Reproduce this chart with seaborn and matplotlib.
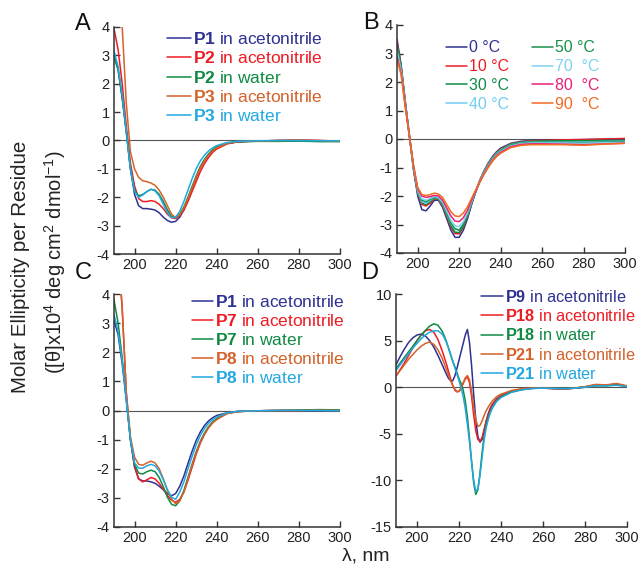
import numpy as np
import pandas as pd
import matplotlib
matplotlib.use("Agg")
import matplotlib.pyplot as plt
from matplotlib.lines import Line2D
import seaborn as sns

# ---------------- data ----------------
wl_abc = list(range(190, 241, 2)) + [245, 250, 255, 260, 270, 280, 290, 300]
wl_d = list(range(190, 213, 2)) + list(range(213, 237)) + [238, 240, 245, 250, 255, 260, 265, 270, 275, 280, 285, 290, 295, 300]

# Panel A
a_p1_acn = [3.0, 2.5, 1.5, 0.3, -1.0, -1.9, -2.3, -2.4, -2.4, -2.42, -2.45, -2.55, -2.7, -2.82, -2.88, -2.85, -2.7, -2.45, -2.1, -1.7, -1.3, -0.95, -0.7, -0.5, -0.35, -0.25,
            -0.1, -0.05, -0.03, -0.02, 0.0, 0.0, -0.02, -0.02]
a_p2_acn = [3.95, 3.2, 2.0, 0.5, -0.8, -1.6, -2.05, -2.15, -2.15, -2.12, -2.15, -2.25, -2.4, -2.6, -2.72, -2.75, -2.65, -2.45, -2.15, -1.8, -1.45, -1.1, -0.82, -0.6, -0.42, -0.3,
            -0.12, -0.05, -0.03, -0.02, 0.0, 0.02, 0.0, -0.02]
a_p2_wat = [2.95, 2.5, 1.5, 0.3, -1.0, -1.75, -1.95, -1.9, -1.8, -1.72, -1.75, -1.9, -2.15, -2.45, -2.68, -2.72, -2.6, -2.35, -2.0, -1.62, -1.25, -0.92, -0.67, -0.48, -0.33, -0.23,
            -0.1, -0.05, -0.04, -0.03, -0.03, -0.02, -0.04, -0.04]
a_p3_acn = [6.5, 5.2, 4.0, 1.3, -0.4, -1.0, -1.3, -1.42, -1.45, -1.5, -1.58, -1.75, -2.0, -2.3, -2.6, -2.72, -2.62, -2.38, -2.05, -1.68, -1.3, -0.97, -0.72, -0.52, -0.37, -0.26,
            -0.1, -0.04, -0.02, -0.02, 0.0, 0.02, 0.0, -0.02]
a_p3_wat = [3.15, 2.6, 1.6, 0.3, -1.0, -1.8, -2.0, -1.92, -1.8, -1.72, -1.78, -1.95, -2.25, -2.55, -2.72, -2.7, -2.5, -2.15, -1.75, -1.35, -1.0, -0.72, -0.52, -0.37, -0.26, -0.18,
            -0.07, -0.03, -0.02, -0.01, 0.0, 0.0, -0.01, -0.01]

# Panel B
b_0 = [3.5, 2.6, 1.3, 0.1, -1.1, -2.0, -2.48, -2.52, -2.35, -2.15, -2.15, -2.4, -2.8, -3.2, -3.45, -3.45, -3.2, -2.8, -2.3, -1.85, -1.45, -1.12, -0.85, -0.62, -0.45, -0.32,
       -0.15, -0.08, -0.05, -0.04, -0.03, -0.02, -0.01, 0.0]
b_10 = [3.4, 2.55, 1.3, 0.1, -1.05, -1.9, -2.3, -2.35, -2.25, -2.1, -2.12, -2.35, -2.72, -3.1, -3.32, -3.33, -3.1, -2.72, -2.25, -1.82, -1.44, -1.12, -0.86, -0.64, -0.47, -0.35,
        -0.17, -0.1, -0.06, -0.05, -0.03, -0.02, 0.0, 0.02]
b_30 = [3.3, 2.5, 1.25, 0.1, -1.05, -1.88, -2.25, -2.3, -2.2, -2.08, -2.1, -2.32, -2.68, -3.05, -3.27, -3.28, -3.06, -2.7, -2.25, -1.83, -1.46, -1.14, -0.88, -0.66, -0.49, -0.37,
        -0.18, -0.11, -0.08, -0.07, -0.06, -0.06, -0.05, -0.05]
b_40 = [3.2, 2.45, 1.25, 0.1, -1.0, -1.85, -2.2, -2.25, -2.15, -2.05, -2.08, -2.28, -2.62, -2.97, -3.17, -3.18, -2.98, -2.65, -2.22, -1.82, -1.46, -1.15, -0.9, -0.68, -0.51, -0.39,
        -0.2, -0.13, -0.1, -0.1, -0.1, -0.1, -0.09, -0.08]
b_50 = [3.3, 2.5, 1.25, 0.1, -1.0, -1.83, -2.15, -2.2, -2.12, -2.05, -2.07, -2.27, -2.6, -2.95, -3.15, -3.2, -3.0, -2.67, -2.25, -1.85, -1.5, -1.18, -0.92, -0.7, -0.53, -0.41,
        -0.21, -0.14, -0.11, -0.11, -0.11, -0.12, -0.11, -0.1]
b_70 = [3.1, 2.4, 1.2, 0.1, -1.0, -1.8, -2.1, -2.15, -2.08, -2.02, -2.05, -2.22, -2.52, -2.85, -3.05, -3.07, -2.9, -2.6, -2.2, -1.83, -1.5, -1.2, -0.95, -0.73, -0.56, -0.44,
        -0.24, -0.16, -0.14, -0.14, -0.14, -0.15, -0.13, -0.12]
b_80 = [2.9, 2.3, 1.15, 0.1, -0.95, -1.75, -2.0, -2.05, -2.02, -1.98, -2.0, -2.15, -2.42, -2.7, -2.88, -2.9, -2.76, -2.5, -2.15, -1.82, -1.5, -1.22, -0.98, -0.76, -0.59, -0.47,
        -0.27, -0.19, -0.17, -0.17, -0.18, -0.2, -0.17, -0.15]
b_90 = [2.8, 2.25, 1.1, 0.1, -0.95, -1.7, -1.95, -1.98, -1.95, -1.9, -1.93, -2.05, -2.3, -2.55, -2.7, -2.72, -2.6, -2.38, -2.08, -1.78, -1.5, -1.24, -1.0, -0.79, -0.62, -0.5,
        -0.3, -0.22, -0.2, -0.2, -0.2, -0.22, -0.18, -0.15]

# Panel C
c_p1_acn = [3.1, 2.6, 1.6, 0.35, -1.0, -1.95, -2.35, -2.42, -2.42, -2.45, -2.5, -2.6, -2.72, -2.85, -2.93, -2.85, -2.6, -2.25, -1.82, -1.4, -1.03, -0.74, -0.52, -0.36, -0.25, -0.17,
            -0.08, -0.03, -0.02, -0.01, 0.0, 0.0, 0.0, -0.01]
c_p7_acn = [7.0, 5.5, 3.5, 0.6, -1.0, -1.9, -2.35, -2.45, -2.38, -2.3, -2.35, -2.5, -2.7, -2.92, -3.08, -3.15, -3.05, -2.8, -2.4, -1.95, -1.5, -1.12, -0.82, -0.58, -0.41, -0.29,
            -0.1, -0.04, -0.02, -0.01, 0.0, 0.0, 0.02, 0.0]
c_p7_wat = [3.8, 3.0, 1.8, 0.4, -1.0, -1.85, -2.15, -2.18, -2.1, -2.05, -2.1, -2.3, -2.62, -2.98, -3.22, -3.27, -3.1, -2.75, -2.3, -1.85, -1.42, -1.06, -0.78, -0.56, -0.4, -0.28,
            -0.1, -0.04, -0.02, -0.01, 0.0, 0.02, 0.03, 0.02]
c_p8_acn = [7.0, 5.5, 3.5, 0.6, -0.9, -1.6, -1.85, -1.88, -1.8, -1.74, -1.8, -2.0, -2.35, -2.75, -3.05, -3.2, -3.1, -2.8, -2.35, -1.88, -1.45, -1.1, -0.82, -0.6, -0.43, -0.31,
            -0.11, -0.04, -0.02, -0.01, 0.0, 0.0, 0.01, 0.0]
c_p8_wat = [3.3, 2.7, 1.7, 0.35, -1.0, -1.8, -1.98, -1.98, -1.9, -1.85, -1.9, -2.08, -2.38, -2.72, -2.98, -3.05, -2.8, -2.45, -2.0, -1.58, -1.18, -0.86, -0.62, -0.44, -0.31, -0.22,
            -0.08, -0.03, -0.02, -0.01, 0.0, 0.0, 0.0, -0.01]

# Panel D
d_p9_acn = [2.4, 3.3, 4.1, 4.8, 5.3, 5.6, 5.7, 5.5, 5.0, 4.3, 3.4, 2.4,
            1.9, 1.4, 0.95, 0.7, 0.7, 1.2, 2.0, 2.9, 3.8, 4.7, 5.6, 6.2, 4.8, 2.3, -0.8, -3.5, -5.3, -5.9, -5.6, -4.6, -3.6, -2.8, -2.2, -1.8,
            -1.25, -0.9, -0.45, -0.2, -0.1, -0.1, -0.15, -0.2, -0.1, 0.0, 0.2, 0.2, 0.35, 0.1]
d_p18_acn = [1.2, 1.9, 2.6, 3.4, 4.2, 5.0, 5.6, 6.05, 6.2, 5.9, 5.1, 3.9,
             3.2, 2.5, 1.7, 0.9, 0.2, -0.3, -0.5, -0.45, -0.1, 0.4, 0.9, 1.1, 0.5, -1.0, -3.0, -4.7, -5.6, -5.8, -5.4, -4.5, -3.6, -2.9, -2.3, -1.85,
             -1.3, -0.95, -0.5, -0.25, -0.12, -0.1, -0.15, -0.2, -0.1, 0.05, 0.25, 0.2, 0.3, 0.1]
d_p18_wat = [2.0, 2.6, 3.2, 3.8, 4.4, 5.0, 5.6, 6.1, 6.55, 6.8, 6.65, 6.0,
             5.5, 4.9, 4.2, 3.5, 2.8, 2.2, 1.6, 0.9, 0.4, -0.3, -1.5, -3.2, -5.5, -8.0, -10.3, -11.5, -11.0, -9.2, -7.0, -5.2, -4.0, -3.2, -2.6, -2.1,
             -1.45, -1.05, -0.5, -0.25, -0.12, -0.1, -0.12, -0.15, -0.1, 0.0, 0.15, 0.15, 0.25, 0.1]
d_p21_acn = [1.2, 1.8, 2.4, 3.0, 3.5, 4.0, 4.4, 4.7, 4.85, 4.6, 4.0, 3.1,
             2.5, 1.9, 1.3, 0.7, 0.2, -0.2, -0.45, -0.45, -0.1, 0.5, 1.0, 1.25, 0.8, -0.5, -2.2, -3.5, -4.2, -4.1, -3.6, -3.0, -2.5, -2.1, -1.75, -1.45,
             -1.0, -0.75, -0.35, -0.15, -0.08, -0.08, -0.12, -0.18, -0.1, 0.05, 0.3, 0.25, 0.4, 0.15]
d_p21_wat = [1.8, 2.4, 3.0, 3.6, 4.2, 4.7, 5.2, 5.6, 5.9, 6.05, 6.05, 5.7,
             5.3, 4.8, 4.2, 3.5, 2.8, 2.1, 1.4, 0.7, -0.1, -1.0, -2.3, -4.0, -5.9, -8.0, -10.0, -11.2, -10.9, -9.5, -7.5, -5.6, -4.3, -3.4, -2.7, -2.2,
             -1.5, -1.1, -0.55, -0.28, -0.14, -0.1, -0.12, -0.15, -0.1, 0.0, 0.15, 0.15, 0.2, 0.08]

BLUE = "#2e3192"
RED = "#ed1c24"
GREEN = "#108a43"
ORANGE = "#d4622a"
CYAN = "#22a8e0"

panel_a = {
    "labels": [r"$\mathbf{P1}$ in acetonitrile", r"$\mathbf{P2}$ in acetonitrile", r"$\mathbf{P2}$ in water",
               r"$\mathbf{P3}$ in acetonitrile", r"$\mathbf{P3}$ in water"],
    "series": [a_p1_acn, a_p2_acn, a_p2_wat, a_p3_acn, a_p3_wat],
    "colors": [BLUE, RED, GREEN, ORANGE, CYAN],
}
panel_b = {
    "labels": ["0 °C", "10 °C", "30 °C", "40 °C", "50 °C", "70  °C", "80  °C", "90  °C"],
    "series": [b_0, b_10, b_30, b_40, b_50, b_70, b_80, b_90],
    "colors": [BLUE, RED, "#0f8a45", "#6fcdf2", "#17914a", "#7dd3f0", "#ec1e79", "#f26a22"],
}
panel_c = {
    "labels": [r"$\mathbf{P1}$ in acetonitrile", r"$\mathbf{P7}$ in acetonitrile", r"$\mathbf{P7}$ in water",
               r"$\mathbf{P8}$ in acetonitrile", r"$\mathbf{P8}$ in water"],
    "series": [c_p1_acn, c_p7_acn, c_p7_wat, c_p8_acn, c_p8_wat],
    "colors": [BLUE, RED, GREEN, ORANGE, CYAN],
}
panel_d = {
    "labels": [r"$\mathbf{P9}$ in acetonitrile", r"$\mathbf{P18}$ in acetonitrile", r"$\mathbf{P18}$ in water",
               r"$\mathbf{P21}$ in acetonitrile", r"$\mathbf{P21}$ in water"],
    "series": [d_p9_acn, d_p18_acn, d_p18_wat, d_p21_acn, d_p21_wat],
    "colors": [BLUE, RED, GREEN, ORANGE, CYAN],
}

# ---------------- style ----------------
sns.set_style("ticks")
plt.rcParams["font.family"] = ["Liberation Sans", "DejaVu Sans"]
plt.rcParams["mathtext.fontset"] = "custom"
plt.rcParams["mathtext.rm"] = "Liberation Sans"
plt.rcParams["mathtext.bf"] = "Liberation Sans:bold"
plt.rcParams["mathtext.it"] = "Liberation Sans:italic"
plt.rcParams["axes.unicode_minus"] = False

W, H = 641, 568
DPI = 100
fig = plt.figure(figsize=(W / DPI, H / DPI), dpi=DPI)
fig.canvas.draw()
R = fig.canvas.get_renderer()


def px_axes(x0, y0, x1, y1):
    return fig.add_axes([x0 / W, 1 - y1 / H, (x1 - x0) / W, (y1 - y0) / H])


def fit_fontsize(label, target_px):
    t = fig.text(0, 0, label, fontsize=10)
    w = t.get_window_extent(R).width
    t.remove()
    return 10 * target_px / w


def draw_curves(ax, wl, panel, ylim, yticks, lw=1.1):
    frames = []
    for lab, vals in zip(panel["labels"], panel["series"]):
        frames.append(pd.DataFrame({"wl": wl, "val": vals, "series": lab}))
    df = pd.concat(frames, ignore_index=True)
    pal = dict(zip(panel["labels"], panel["colors"]))
    sns.lineplot(data=df, x="wl", y="val", hue="series", palette=pal, ax=ax,
                 legend=False, estimator=None, sort=False, linewidth=lw)
    ax.axhline(0, color="#555555", lw=0.8, zorder=0)
    ax.set_xlim(190, 300)
    ax.set_ylim(*ylim)
    ax.set_xticks([200, 220, 240, 260, 280, 300])
    ax.set_yticks(yticks)
    ax.set_xlabel("")
    ax.set_ylabel("")
    for s in ["top", "right"]:
        ax.spines[s].set_visible(False)
    for s in ["left", "bottom"]:
        ax.spines[s].set_color("#333333")
        ax.spines[s].set_linewidth(1.1)
    ax.tick_params(axis="both", direction="in", length=4, width=1.0, labelsize=10.5,
                   colors="#333333", labelcolor="#222222", pad=3)


def place_legend(ax, panel, fs, x_left, y_first, pitch, handle_px, ncol=1, col2_text_x=None):
    fs_px = fs * DPI / 72
    hl = handle_px / fs_px
    nrow = int(np.ceil(len(panel["labels"]) / ncol))
    state = {"ls": 0.2, "ytop": y_first - 0.6 * fs_px, "cs": 1.0}

    def build():
        handles = [Line2D([], [], color=c, lw=1.1) for c in panel["colors"]]
        leg = ax.legend(handles, panel["labels"], loc="upper left",
                        bbox_to_anchor=(x_left / W, 1 - state["ytop"] / H),
                        bbox_transform=fig.transFigure,
                        frameon=False, fontsize=fs, ncol=ncol, borderpad=0, borderaxespad=0,
                        handlelength=hl, handletextpad=0.1, labelspacing=state["ls"],
                        columnspacing=state["cs"])
        for t, c in zip(leg.get_texts(), panel["colors"]):
            t.set_color(c)
        return leg

    for _ in range(3):
        leg = build()
        fig.canvas.draw()
        texts = leg.get_texts()
        ext = [t.get_window_extent(R) for t in texts]
        cy = [H - (e.y0 + e.y1) / 2 for e in ext]
        cur_pitch = (cy[nrow - 1] - cy[0]) / (nrow - 1)
        state["ls"] += (pitch - cur_pitch) / fs_px
        state["ytop"] -= (cy[0] - y_first)
        if col2_text_x is not None:
            state["cs"] += (col2_text_x - ext[nrow].x0) / fs_px
    leg = build()
    return leg


axA = px_axes(114, 27, 340, 254)
axB = px_axes(397, 25, 625, 253)
axC = px_axes(114, 294, 340, 527)
axD = px_axes(396, 294, 627, 527)

draw_curves(axA, wl_abc, panel_a, (-4, 4), range(-4, 5))
draw_curves(axB, wl_abc, panel_b, (-4, 4), range(-4, 5))
draw_curves(axC, wl_abc, panel_c, (-4, 4), range(-4, 5))
draw_curves(axD, wl_d, panel_d, (-15, 10), range(-15, 11, 5))

fs_main = fit_fontsize(panel_a["labels"][0], 130)
fs_d = min(fs_main, fit_fontsize(panel_d["labels"][1], 131))
fs_b = fit_fontsize(panel_b["labels"][1], 40)

place_legend(axA, panel_a, fs_main, 167, 39, 19.3, 24)
place_legend(axB, panel_b, fs_b, 446, 48, 18.7, 21, ncol=2, col2_text_x=555)
place_legend(axC, panel_c, fs_main, 192, 302, 19.0, 21)
place_legend(axD, panel_d, fs_d, 481, 297, 19.2, 22)

for lab, x, y in [("A", 83, 24), ("B", 371, 23), ("C", 83, 273), ("D", 370, 273)]:
    fig.text(x / W, 1 - y / H, lab, fontsize=17, ha="center", va="center", color="#111111")

fig.text(21 / W, 1 - 267 / H, "Molar Ellipticity per Residue", rotation=90,
         ha="center", va="center", fontsize=14.8, color="#222222")
fig.text(55 / W, 1 - 262 / H, r"([θ]x10$^4$ deg cm$^2$ dmol$^{-1}$)", rotation=90,
         ha="center", va="center", fontsize=14.5, color="#222222")
fig.text(366 / W, 1 - 556 / H, "λ, nm", ha="center", va="center", fontsize=14, color="#222222")

fig.savefig("out.png", dpi=DPI)
